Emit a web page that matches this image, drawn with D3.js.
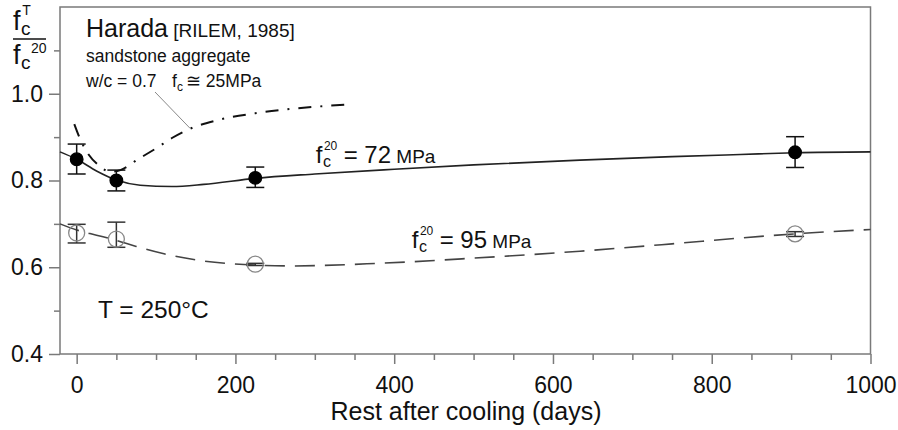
<!DOCTYPE html>
<html>
<head>
<meta charset="utf-8">
<script src="https://cdn.jsdelivr.net/npm/d3@7"></script>
<style>
  body { margin: 0; background: #fff; }
  text { font-family: Arial, "Liberation Sans", sans-serif; fill: #111; }
</style>
</head>
<body>
<svg class="chart"></svg>
<script>
// measured points (rest after cooling, days) and relative strength fcT/fc20
const days = [0, 50, 225, 905];
const ratio72 = [0.849, 0.800, 0.806, 0.865];
const err72Low = [0.815, 0.776, 0.784, 0.830];
const err72High = [0.884, 0.824, 0.831, 0.901];
const ratio95 = [0.679, 0.665, 0.607, 0.677];
const err95Low = [0.656, 0.646, 0.604, 0.671];
const err95High = [0.699, 0.704, 0.609, 0.682];

// fitted curves
const fitDays72 = [-21, 0, 25, 50, 80, 120, 160, 225, 300, 400, 500, 634, 750, 836, 905, 1000];
const fit72 = [0.866, 0.849, 0.822, 0.801, 0.789, 0.786, 0.791, 0.805, 0.815, 0.826, 0.836, 0.847, 0.855, 0.860, 0.864, 0.866];
const fitDays95 = [-21, 0, 25, 50, 75, 110, 150, 225, 270, 380, 500, 634, 750, 840, 905, 1000];
const fit95 = [0.700, 0.686, 0.674, 0.662, 0.648, 0.631, 0.617, 0.605, 0.603, 0.609, 0.621, 0.637, 0.654, 0.668, 0.677, 0.687];

// Harada [RILEM, 1985] curve
const haradaDays = [-3, 5, 15, 28, 42, 55, 78, 100, 120, 145, 175, 225, 270, 340];
const harada = [0.93, 0.893, 0.86, 0.835, 0.82, 0.824, 0.85, 0.874, 0.898, 0.921, 0.938, 0.955, 0.965, 0.975];

// axis ticks
const xMajor = [0, 200, 400, 600, 800, 1000];
const xMinor = [50, 100, 150, 250, 300, 350, 450, 500, 550, 650, 700, 750, 850, 900, 950];
const yMajor = [0.4, 0.6, 0.8, 1.0];
const yMinor = [0.5, 0.7, 0.9, 1.1];

let SVG, xScale, yScale;
const AXIS_GREY = "#7a7a7a";

function chartEntryPoint() {
  SVG = d3.select(".chart").attr("width", 898).attr("height", 430);
  setScale();
  setAxis();
  drawCurves();
  drawPoints();
  setLabels();
}

function setScale() {
  xScale = d3.scaleLinear().domain([-21, 1000]).range([60, 870.5]);
  yScale = d3.scaleLinear().domain([0.4, 1.2]).range([354, 7]);
}

function setAxis() {
  // frame
  SVG.append("rect")
    .attr("x", xScale(-21)).attr("y", yScale(1.2))
    .attr("width", xScale(1000) - xScale(-21))
    .attr("height", yScale(0.4) - yScale(1.2))
    .attr("fill", "none")
    .attr("stroke", AXIS_GREY)
    .attr("stroke-width", 1.5);

  var xAxis = d3.axisBottom(xScale).tickValues(xMajor).tickSize(10).tickPadding(13).tickFormat(d3.format("d"));
  var xAxisMinor = d3.axisBottom(xScale).tickValues(xMinor).tickSize(6).tickFormat("");
  var yAxis = d3.axisLeft(yScale).tickValues(yMajor).tickSize(11).tickPadding(6).tickFormat(d3.format(".1f"));
  var yAxisMinor = d3.axisLeft(yScale).tickValues(yMinor).tickSize(6).tickFormat("");

  [[xAxis, "translate(0," + yScale(0.4) + ")"],
   [xAxisMinor, "translate(0," + yScale(0.4) + ")"],
   [yAxis, "translate(" + xScale(-21) + ",0)"],
   [yAxisMinor, "translate(" + xScale(-21) + ",0)"]].forEach(function(a) {
    var g = SVG.append("g").attr("transform", a[1]).call(a[0]);
    g.select(".domain").remove();
    g.selectAll(".tick line").attr("stroke", AXIS_GREY).attr("stroke-width", 1.5);
    g.selectAll(".tick text").attr("fill", "#111").style("font-size", "23px");
  });

  // x label
  SVG.append("text")
    .attr("x", 466).attr("y", 420)
    .attr("text-anchor", "middle")
    .style("font-size", "25px")
    .text("Rest after cooling (days)");

  // y label: fcT / fc20
  var yl = SVG.append("g");
  fLabel(yl, 13, 30, "T", 27, 19, 14, 15, 9.2);
  yl.append("line")
    .attr("x1", 13).attr("x2", 46).attr("y1", 39).attr("y2", 39)
    .attr("stroke", "#111").attr("stroke-width", 1.6);
  fLabel(yl, 13, 64, "20", 27, 19, 14, 11, 18);
}

// "f" with subscript c and a stacked superscript
function fLabel(g, x, y, sup, size, subSize, supSize, supRise, supDx) {
  g.append("text").attr("x", x).attr("y", y).style("font-size", size + "px").text("f");
  g.append("text").attr("x", x + size * 0.3).attr("y", y + size * 0.17).style("font-size", subSize + "px").text("c");
  g.append("text").attr("x", x + supDx).attr("y", y - supRise).style("font-size", supSize + "px").text(sup);
}

function drawCurves() {
  var line = d3.line()
    .x(function(d) { return xScale(d[0]); })
    .y(function(d) { return yScale(d[1]); })
    .curve(d3.curveMonotoneX);

  SVG.append("path")
    .datum(d3.zip(fitDays72, fit72))
    .attr("d", line)
    .attr("fill", "none").attr("stroke", "#222").attr("stroke-width", 1.6);

  SVG.append("path")
    .datum(d3.zip(fitDays95, fit95))
    .attr("d", line)
    .attr("fill", "none").attr("stroke", "#444").attr("stroke-width", 1.6)
    .attr("stroke-dasharray", "20,10");

  SVG.append("path")
    .datum(d3.zip(haradaDays, harada))
    .attr("d", line)
    .attr("fill", "none").attr("stroke", "#111").attr("stroke-width", 2)
    .attr("stroke-dasharray", "13,9,2,9");
}

function drawPoints() {
  var sets = [
    { v: ratio95, lo: err95Low, hi: err95High, r: 8, fill: "none", stroke: "#888", bar: "#333" },
    { v: ratio72, lo: err72Low, hi: err72High, r: 6.3, fill: "#000", stroke: "#000", bar: "#111" }
  ];
  sets.forEach(function(s) {
    var g = SVG.append("g");
    var rows = days.map(function(d, i) { return { x: d, y: s.v[i], lo: s.lo[i], hi: s.hi[i] }; });
    g.selectAll(".bar").data(rows).enter().append("line")
      .attr("x1", function(d) { return xScale(d.x); })
      .attr("x2", function(d) { return xScale(d.x); })
      .attr("y1", function(d) { return yScale(d.lo); })
      .attr("y2", function(d) { return yScale(d.hi); })
      .attr("stroke", s.bar).attr("stroke-width", 1.5);
    ["lo", "hi"].forEach(function(k) {
      g.selectAll(".cap" + k).data(rows).enter().append("line")
        .attr("x1", function(d) { return xScale(d.x) - 9; })
        .attr("x2", function(d) { return xScale(d.x) + 9; })
        .attr("y1", function(d) { return yScale(d[k]); })
        .attr("y2", function(d) { return yScale(d[k]); })
        .attr("stroke", s.bar).attr("stroke-width", 1.5);
    });
    g.selectAll("circle").data(rows).enter().append("circle")
      .attr("cx", function(d) { return xScale(d.x); })
      .attr("cy", function(d) { return yScale(d.y); })
      .attr("r", s.r)
      .attr("fill", s.fill)
      .attr("stroke", s.stroke).attr("stroke-width", 1.3);
  });
}

function setLabels() {
  // Harada annotation
  var h = SVG.append("text").attr("x", 86).attr("y", 37).style("font-size", "25px").text("Harada");
  h.append("tspan").style("font-size", "19px").text(" [RILEM, 1985]");
  SVG.append("text").attr("x", 86).attr("y", 62).style("font-size", "17.5px").text("sandstone aggregate");
  SVG.append("text").attr("x", 86).attr("y", 87).style("font-size", "17.5px").text("w/c = 0.7");
  SVG.append("text").attr("x", 172).attr("y", 87).style("font-size", "17.5px").text("f");
  SVG.append("text").attr("x", 177).attr("y", 91).style("font-size", "12px").text("c");
  SVG.append("text").attr("x", 186).attr("y", 87).style("font-size", "17.5px").text("\u2245 25MPa");
  SVG.append("line")
    .attr("x1", 155).attr("y1", 92)
    .attr("x2", xScale(143)).attr("y2", yScale(0.92))
    .attr("stroke", "#888").attr("stroke-width", 1);

  // curve labels
  [[315.7, 163, "72"], [411.7, 248, "95"]].forEach(function(c) {
    var g = SVG.append("g");
    fLabel(g, c[0], c[1], "20", 24, 16, 12, 13, 8.2);
    var t = g.append("text").attr("x", c[0] + 28).attr("y", c[1]).style("font-size", "24px").text("= " + c[2]);
    t.append("tspan").style("font-size", "19px").text(" MPa");
  });

  SVG.append("text").attr("x", 98).attr("y", 318).style("font-size", "24.5px").text("T = 250\u00B0C");
}

chartEntryPoint();
</script>
</body>
</html>
